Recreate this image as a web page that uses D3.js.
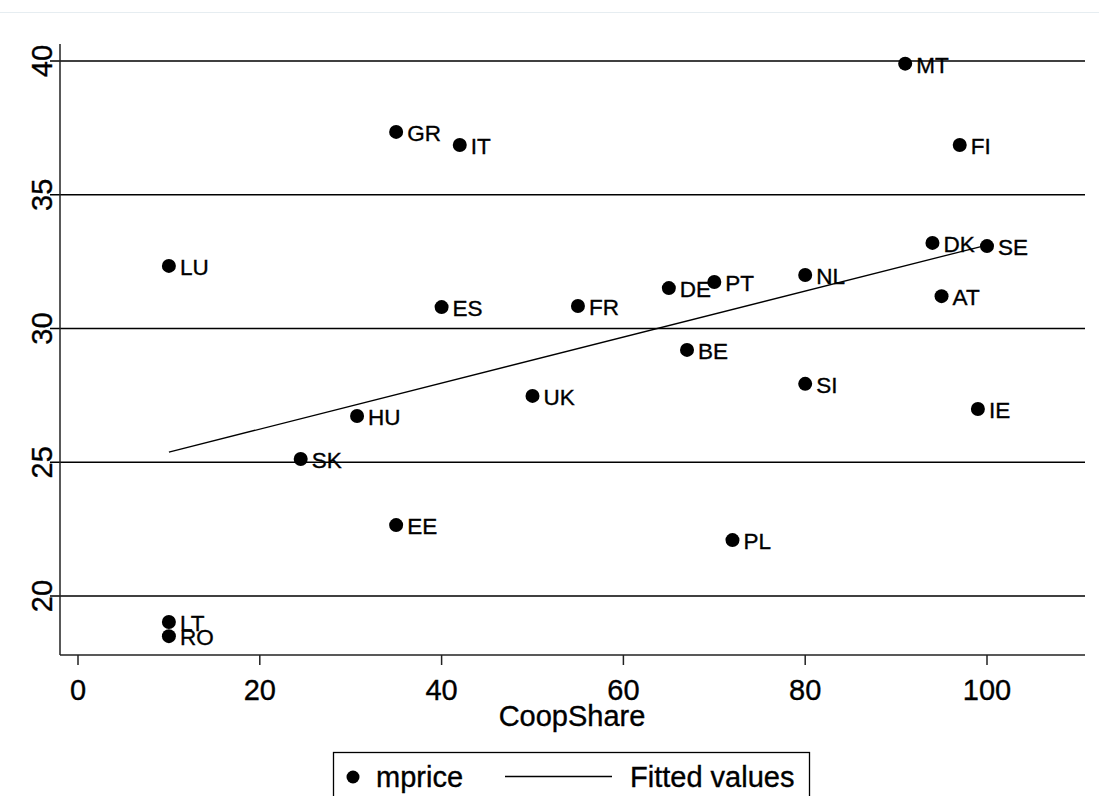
<!DOCTYPE html>
<html>
<head>
<meta charset="utf-8">
<script src="https://cdn.jsdelivr.net/npm/d3@7"></script>
<style>
  html, body { margin: 0; padding: 0; background: #fff; }
  svg { display: block; font-family: "Liberation Sans", Arial, sans-serif; }
</style>
</head>
<body>
<svg id="chart" width="1099" height="796"></svg>
<script>
// ---- data ----
const countries = ["MT","GR","IT","FI","DK","SE","LU","NL","PT","DE","AT","FR","ES","BE","SI","UK","IE","HU","SK","EE","PL","LT","RO"];
const coopShare = [91, 35, 42, 97, 94, 100, 10, 80, 70, 65, 95, 55, 40, 67, 80, 50, 99, 30.7, 24.5, 35, 72, 10, 10];
const mprice    = [39.9, 37.35, 36.86, 36.86, 33.2, 33.08, 32.34, 32.0, 31.74, 31.51, 31.21, 30.84, 30.8, 29.2, 27.93, 27.48, 26.99, 26.73, 25.12, 22.65, 22.09, 19.03, 18.5];
const fittedX   = [10, 100];
const fittedY   = [25.38, 33.12];
const xTicks    = [0, 20, 40, 60, 80, 100];
const yTicks    = [20, 25, 30, 35, 40];
const xTitle    = "CoopShare";
const legendLabels = ["mprice", "Fitted values"];

const svg = d3.select("#chart");

// thin page rule near the top (remains of a caption above the figure)
svg.append("line").attr("x1", 0).attr("x2", 1099).attr("y1", 12.5).attr("y2", 12.5)
  .attr("stroke", "#e6edf1").attr("stroke-width", 1);

const x = d3.scaleLinear().domain([0, 100]).range([78, 987]);
const y = d3.scaleLinear().domain([20, 40]).range([596, 61]);

const xMin = x.invert(60), xMax = x.invert(1085);
const yMin = y.invert(655), yMax = y.invert(44);

const txt = sel => sel.attr("fill", "#000").attr("stroke", "#000").attr("stroke-width", 0.35);

// gridlines (with outward ticks merged in)
svg.append("g").selectAll("line").data(yTicks).join("line")
  .attr("x1", 50).attr("x2", x(xMax))
  .attr("y1", d => y(d)).attr("y2", d => y(d))
  .attr("stroke", "#000").attr("stroke-width", 1.3);

// y axis line
svg.append("line").attr("x1", x(xMin)).attr("x2", x(xMin))
  .attr("y1", y(yMax)).attr("y2", y(yMin))
  .attr("stroke", "#222").attr("stroke-width", 1.5);
// x axis line
svg.append("line").attr("x1", x(xMin)).attr("x2", x(xMax))
  .attr("y1", y(yMin)).attr("y2", y(yMin))
  .attr("stroke", "#222").attr("stroke-width", 1.5);

// x ticks
svg.append("g").selectAll("line").data(xTicks).join("line")
  .attr("x1", d => x(d)).attr("x2", d => x(d))
  .attr("y1", y(yMin)).attr("y2", y(yMin) + 10)
  .attr("stroke", "#222").attr("stroke-width", 1.5);
svg.append("g").selectAll("text").data(xTicks).join("text")
  .attr("x", d => x(d)).attr("y", 700)
  .attr("text-anchor", "middle").attr("font-size", 29)
  .call(txt)
  .text(d => d);

// y tick labels (rotated)
svg.append("g").selectAll("text").data(yTicks).join("text")
  .attr("transform", d => `translate(52,${y(d)}) rotate(-90)`)
  .attr("text-anchor", "middle").attr("font-size", 29)
  .call(txt)
  .text(d => d);

// x title
svg.append("text").attr("x", 572).attr("y", 726)
  .attr("text-anchor", "middle").attr("font-size", 29)
  .call(txt)
  .text(xTitle);

// fitted line
svg.append("line")
  .attr("x1", x(fittedX[0])).attr("y1", y(fittedY[0]))
  .attr("x2", x(fittedX[1])).attr("y2", y(fittedY[1]))
  .attr("stroke", "#000").attr("stroke-width", 1.3);

// points
const pts = countries.map((c, i) => ({c, x: coopShare[i], y: mprice[i]}));
svg.append("g").selectAll("circle").data(pts).join("circle")
  .attr("cx", d => x(d.x)).attr("cy", d => y(d.y)).attr("r", 7).attr("fill", "#000");
svg.append("g").selectAll("text").data(pts).join("text")
  .attr("x", d => x(d.x) + 11).attr("y", d => y(d.y) + 9)
  .attr("font-size", 22.5)
  .call(txt)
  .text(d => d.c);

// legend
const lg = svg.append("g");
lg.append("rect").attr("x", 333.5).attr("y", 752.5).attr("width", 476).attr("height", 80)
  .attr("fill", "#fff").attr("stroke", "#000").attr("stroke-width", 1.3);
lg.append("circle").attr("cx", 353).attr("cy", 777).attr("r", 6.5).attr("fill", "#000");
lg.append("text").attr("x", 376).attr("y", 787).attr("font-size", 29).call(txt).text(legendLabels[0]);
lg.append("line").attr("x1", 505).attr("x2", 612).attr("y1", 776.5).attr("y2", 776.5)
  .attr("stroke", "#000").attr("stroke-width", 1.3);
lg.append("text").attr("x", 630).attr("y", 787).attr("font-size", 29).call(txt).text(legendLabels[1]);
</script>
</body>
</html>
